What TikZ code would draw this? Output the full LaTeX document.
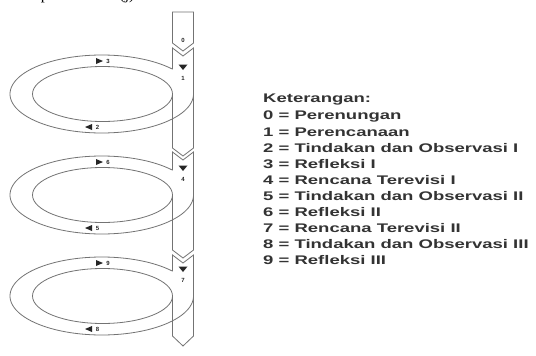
\documentclass[tikz,border=0pt]{standalone}
\usepackage{fontspec}
\setmainfont{Liberation Sans}
\newfontfamily\capserif{Liberation Serif}
\begin{document}
\begin{tikzpicture}[x=1pt,y=-1pt,
  edge/.style={draw=black!55,line width=0.8pt,line join=miter},
  tri/.style={fill=black!85},
  tiny/.style={inner sep=0pt,font=\fontsize{6}{6}\selectfont\bfseries,text=black!85},
  legend/.style={anchor=west,inner sep=0pt,font=\fontsize{12.5}{14}\selectfont\bfseries,text=black!80}]
\useasboundingbox (0,0) rectangle (536,356);
\fill[white] (0,0) rectangle (536,356);
% cut-off caption above
\begin{scope}
\clip (0,0) rectangle (536,356);
\node[anchor=base,inner sep=0pt,font=\capserif\fontsize{16}{16}\selectfont] (capa) at (45,-0.5) {p};
\node[anchor=base,inner sep=0pt,font=\capserif\fontsize{16}{16}\selectfont] (capb) at (127,-0.5) {(j)};
\end{scope}
\def\L{172.5}\def\R{193.5}\def\M{183}
% column segments
\filldraw[edge,fill=white] (\L,12) -- (\R,12) -- (\R,43) -- (\M,51) -- (\L,43) -- cycle;
\filldraw[edge,fill=white] (\L,48) -- (\M,56) -- (\R,48) -- (\R,148) -- (\M,156) -- (\L,148) -- cycle;
\filldraw[edge,fill=white] (\L,152) -- (\M,160) -- (\R,152) -- (\R,250) -- (\M,258) -- (\L,250) -- cycle;
\filldraw[edge,fill=white] (\L,255) -- (\M,263) -- (\R,255) -- (\R,336) -- (\M,346) -- (\L,336) -- cycle;
\node[tiny] (n0) at (\M,40) {0};
% loops
\foreach \cy/\bot/\top/\a/\b/\c/\d in {94/148/48/3/2/1/l1, 195/250/152/6/5/4/l2, 296/336/255/9/8/7/l3}{
  \fill[white] (101.75,\cy) ellipse [x radius=91.75, y radius=39];
  \draw[edge] plot[domain=0:320.5,samples=120,smooth] ({101.75+91.75*cos(\x)},{\cy+39*sin(\x)});
  \draw[edge] (102.5,\cy) ellipse [x radius=70, y radius=27.5];
  \draw[edge] (\L,\cy) -- (\L,\bot);
  \draw[edge] (\R,\cy-40) -- (\R,\cy+40);
  \fill[tri] (96,\cy-36) -- (103,\cy-33) -- (96,\cy-30) -- cycle;
  \node[tiny] (\d top) at (108,\cy-33) {\a};
  \fill[tri] (92,\cy+30) -- (85,\cy+33) -- (92,\cy+36) -- cycle;
  \node[tiny] (\d bot) at (97.5,\cy+33) {\b};
  \fill[tri] (178.5,\cy-29.5) -- (187.5,\cy-29.5) -- (\M,\cy-24) -- cycle;
  \node[tiny] (\d col) at (\M,\cy-16) {\c};
}
% legend
\foreach \t [count=\i from 0] in {Keterangan:, 0 = Perenungan, 1 = Perencanaan, 2 = Tindakan dan Observasi I, 3 = Refleksi I, 4 = Rencana Terevisi I, 5 = Tindakan dan Observasi II, 6 = Refleksi II, 7 = Rencana Terevisi II, 8 = Tindakan dan Observasi III, 9 = Refleksi III}{
  \node[legend] (leg\i) at (263,100+16*\i) {\scalebox{1.48}[1]{\t}};
}
\end{tikzpicture}
\end{document}
